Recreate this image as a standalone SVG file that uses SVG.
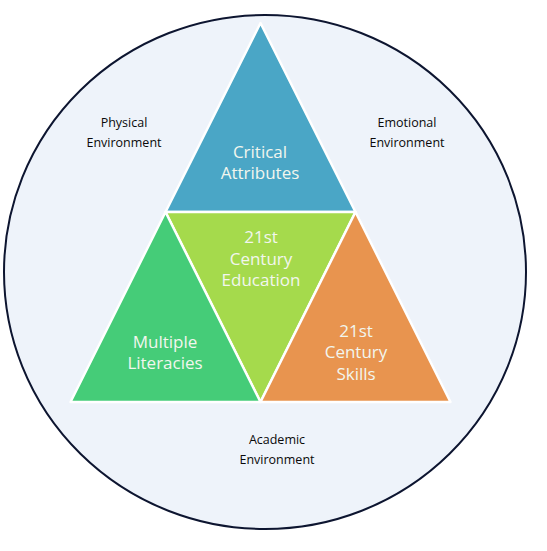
<svg xmlns="http://www.w3.org/2000/svg" width="547" height="551" viewBox="0 0 547 551">
<style>
.tri{stroke:#ffffff;stroke-width:2.5;stroke-linejoin:round}
.in{font-family:"Open Sans","Liberation Sans",sans-serif;font-size:17px;fill:#f2f6ee;text-anchor:middle}
.out{font-family:"Open Sans","Liberation Sans",sans-serif;font-size:12.5px;fill:#0a0a0a;text-anchor:middle}
</style>
<rect width="547" height="551" fill="#ffffff"/>
<g id="environment">
<ellipse cx="265" cy="272" rx="261" ry="257" fill="#eef3fa" stroke="#0d1530" stroke-width="2"/>
<text class="out" x="124" y="127">Physical</text>
<text class="out" x="124" y="147">Environment</text>
<text class="out" x="407" y="127">Emotional</text>
<text class="out" x="407" y="147">Environment</text>
<text class="out" x="277" y="444">Academic</text>
<text class="out" x="277" y="464">Environment</text>
</g>
<g id="critical-attributes">
<polygon class="tri" points="260.5,23 355.5,212 165.5,212" fill="#4aa6c6"/>
<text class="in" x="260" y="158">Critical</text>
<text class="in" x="260" y="179">Attributes</text>
</g>
<g id="education">
<polygon class="tri" points="165.5,212 355.5,212 260.5,402" fill="#a5da4c"/>
<text class="in" x="261" y="243">21st</text>
<text class="in" x="261" y="265">Century</text>
<text class="in" x="261" y="286">Education</text>
</g>
<g id="multiple-literacies">
<polygon class="tri" points="165.5,212 260.5,402 70.5,402" fill="#45cc78"/>
<text class="in" x="165" y="348">Multiple</text>
<text class="in" x="165" y="369">Literacies</text>
</g>
<g id="skills">
<polygon class="tri" points="355.5,212 450.5,402 260.5,402" fill="#e8944f"/>
<text class="in" x="356" y="337">21st</text>
<text class="in" x="356" y="358">Century</text>
<text class="in" x="356" y="380">Skills</text>
</g>
<g id="connectors"/>
</svg>
